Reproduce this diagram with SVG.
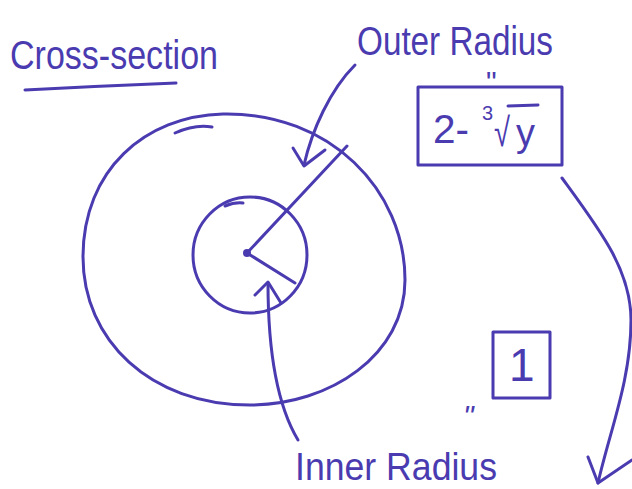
<svg xmlns="http://www.w3.org/2000/svg" width="632" height="489" viewBox="0 0 632 489">
<style>
.ink{fill:none;stroke:#4a3bb0;stroke-width:3;stroke-linecap:round;stroke-linejoin:round}
.txt{font-family:"Liberation Sans","DejaVu Sans",sans-serif;fill:#4a3bb0}
</style>
<rect width="632" height="489" fill="#ffffff"/>
<g id="title">
<text class="txt" x="10" y="69" font-size="40" textLength="208" lengthAdjust="spacingAndGlyphs">Cross-section</text>
<path class="ink" d="M25 90 Q100 86 176 83"/>
</g>
<g id="outer-circle">
<path class="ink" d="M223 114 C330 112 405 190 405 280 C405 355 330 405 250 405 C150 405 83 340 83 257 C83 170 145 116 223 114 Z"/>
<path class="ink" d="M175 133 Q195 124 212 127"/>
</g>
<g id="inner-circle">
<ellipse class="ink" cx="250" cy="255" rx="57" ry="58"/>
<path class="ink" d="M225 206 Q235 202 243 203"/>
<circle cx="247" cy="253" r="4" fill="#4a3bb0"/>
</g>
<g id="radii">
<path class="ink" d="M247 253 L347 146"/>
<path class="ink" d="M247 253 L295 283"/>
</g>
<g id="outer-label">
<text class="txt" x="357" y="55" font-size="40" textLength="196" lengthAdjust="spacingAndGlyphs">Outer Radius</text>
<text class="txt" x="486" y="92" font-size="30">"</text>
</g>
<g id="outer-formula">
<rect class="ink" x="418" y="87" width="144" height="78"/>
<text class="txt" x="433" y="143" font-size="40" textLength="36" lengthAdjust="spacingAndGlyphs">2-</text>
<text class="txt" x="482" y="120" font-size="20">3</text>
<text class="txt" x="494" y="146" font-size="40" textLength="16" lengthAdjust="spacingAndGlyphs">√</text>
<path class="ink" d="M508 106 L538 105"/>
<text class="txt" x="516" y="146" font-size="38">y</text>
</g>
<g id="inner-formula">
<rect class="ink" x="493" y="332" width="57" height="66"/>
<text class="txt" x="509" y="381" font-size="46">1</text>
<text class="txt" x="463" y="426" font-size="30" font-style="italic">"</text>
</g>
<g id="inner-label">
<text class="txt" x="295" y="480" font-size="38" textLength="202" lengthAdjust="spacingAndGlyphs">Inner Radius</text>
</g>
<g id="connectors">
<path class="ink" d="M355 65 C330 90 312 130 304 165"/>
<path class="ink" d="M293 148 L304 166 L325 150"/>
<path class="ink" d="M298 440 C280 410 268 360 268 283"/>
<path class="ink" d="M255 295 L268 282 L281 303"/>
<path class="ink" d="M562 178 C600 230 631 270 631 320 C631 380 610 430 598 483"/>
<path class="ink" d="M588 457 L598 483 L632 460"/>
</g>
</svg>
